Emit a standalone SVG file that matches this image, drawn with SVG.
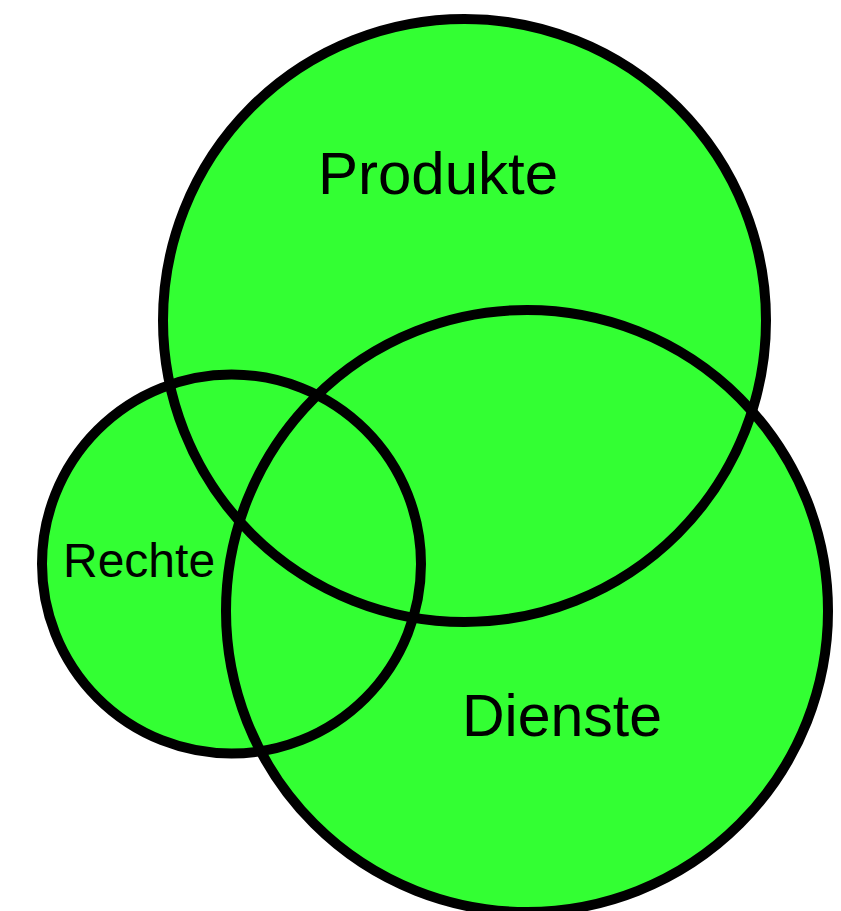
<svg xmlns="http://www.w3.org/2000/svg" width="841" height="911" viewBox="0 0 841 911">
<style>
.fill{fill:#33ff33;stroke:none}
.ring{fill:none;stroke:#000;stroke-width:10}
.lbl{font-family:"Liberation Sans",Arial,Helvetica,sans-serif;fill:#000}
</style>
<rect x="0" y="0" width="841" height="911" fill="#ffffff"/>
<g id="fills">
<circle class="fill" cx="464.5" cy="320.5" r="301.5"/>
<circle class="fill" cx="527" cy="611" r="301"/>
<circle class="fill" cx="231.5" cy="564" r="189.5"/>
</g>
<g id="produkte">
<circle class="ring" cx="464.5" cy="320.5" r="301.5"/>
<text class="lbl" x="318" y="194" font-size="60">Produkte</text>
</g>
<g id="dienste">
<circle class="ring" cx="527" cy="611" r="301"/>
<text class="lbl" x="462" y="736" font-size="59">Dienste</text>
</g>
<g id="rechte">
<circle class="ring" cx="231.5" cy="564" r="189.5"/>
<text class="lbl" x="63" y="577" font-size="48">Rechte</text>
</g>
<g id="connectors"/>
</svg>
